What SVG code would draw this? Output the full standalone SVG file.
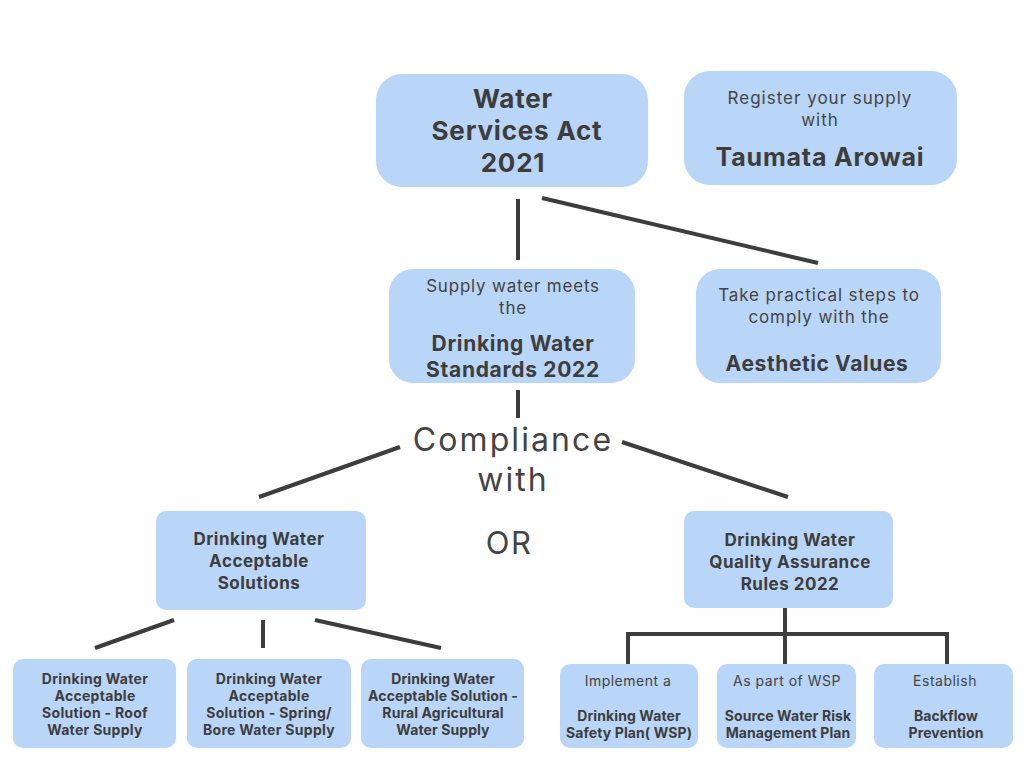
<svg xmlns="http://www.w3.org/2000/svg" width="1024" height="768" viewBox="0 0 1024 768">
<style>
.box{fill:#b9d5f8}
.b{font-family:Inter,"Open Sans","Liberation Sans",sans-serif;font-weight:700;fill:#3d3d3d;text-anchor:middle}
.r{font-family:Inter,"Open Sans","Liberation Sans",sans-serif;font-weight:400;fill:#444;text-anchor:middle}
.ln{stroke:#3d3d3d;stroke-width:4;fill:none}
</style>
<rect width="1024" height="768" fill="#fff"/>
<g id="connectors">
<line class="ln" x1="518" y1="199" x2="518" y2="260"/>
<line class="ln" x1="542" y1="198" x2="818" y2="263"/>
<line class="ln" x1="518" y1="390" x2="518" y2="418"/>
<line class="ln" x1="400" y1="447" x2="259" y2="497"/>
<line class="ln" x1="622" y1="442" x2="788" y2="497"/>
<line class="ln" x1="174" y1="620" x2="95" y2="648"/>
<line class="ln" x1="263" y1="620" x2="263" y2="648"/>
<line class="ln" x1="315" y1="620" x2="441" y2="648"/>
<line class="ln" x1="785" y1="608" x2="785" y2="664"/>
<polyline class="ln" points="628,664 628,634 947,634 947,664"/>
</g>
<g id="act">
<rect class="box" x="376" y="74" width="272" height="113" rx="26"/>
<text class="b" font-size="26" letter-spacing="0.8"><tspan x="513" y="108">Water</tspan><tspan x="517" y="140">Services Act</tspan><tspan x="513" y="172">2021</tspan></text>
</g>
<g id="register">
<rect class="box" x="684" y="71" width="273" height="114" rx="26"/>
<text class="r" font-size="17" letter-spacing="1"><tspan x="820" y="104">Register your supply</tspan><tspan x="820" y="126">with</tspan></text>
<text class="b" font-size="25" letter-spacing="0.8" x="820" y="166">Taumata Arowai</text>
</g>
<g id="standards">
<rect class="box" x="389" y="269" width="246" height="114" rx="24"/>
<text class="r" font-size="17" letter-spacing="0.8"><tspan x="513" y="292">Supply water meets</tspan><tspan x="513" y="314">the</tspan></text>
<text class="b" font-size="21" letter-spacing="0.7"><tspan x="513" y="351">Drinking Water</tspan><tspan x="513" y="377">Standards 2022</tspan></text>
</g>
<g id="aesthetic">
<rect class="box" x="696" y="269" width="245" height="114" rx="24"/>
<text class="r" font-size="17" letter-spacing="0.9"><tspan x="819" y="301">Take practical steps to</tspan><tspan x="819" y="323">comply with the</tspan></text>
<text class="b" font-size="21" letter-spacing="0.6" x="817" y="371">Aesthetic Values</text>
</g>
<g id="compliance">
<text class="r" font-size="32" letter-spacing="2.1"><tspan x="513" y="451">Compliance</tspan><tspan x="513" y="491">with</tspan></text>
</g>
<g id="or">
<text class="r" font-size="31" letter-spacing="1.5" x="509" y="554">OR</text>
</g>
<g id="acceptable">
<rect class="box" x="156" y="511" width="210" height="99" rx="10"/>
<text class="b" font-size="17" letter-spacing="0.5"><tspan x="259" y="545">Drinking Water</tspan><tspan x="259" y="567">Acceptable</tspan><tspan x="259" y="589">Solutions</tspan></text>
</g>
<g id="qarules">
<rect class="box" x="684" y="511" width="209" height="97" rx="10"/>
<text class="b" font-size="17" letter-spacing="0.5"><tspan x="790" y="546">Drinking Water</tspan><tspan x="790" y="568">Quality Assurance</tspan><tspan x="790" y="590">Rules 2022</tspan></text>
</g>
<g id="roof">
<rect class="box" x="13" y="659" width="163" height="89" rx="10"/>
<text class="b" font-size="14" letter-spacing="0.3"><tspan x="95" y="684">Drinking Water</tspan><tspan x="95" y="701">Acceptable</tspan><tspan x="95" y="718">Solution - Roof</tspan><tspan x="95" y="735">Water Supply</tspan></text>
</g>
<g id="spring">
<rect class="box" x="187" y="659" width="164" height="89" rx="10"/>
<text class="b" font-size="14" letter-spacing="0.3"><tspan x="269" y="684">Drinking Water</tspan><tspan x="269" y="701">Acceptable</tspan><tspan x="269" y="718">Solution - Spring/</tspan><tspan x="269" y="735">Bore Water Supply</tspan></text>
</g>
<g id="rural">
<rect class="box" x="361" y="659" width="163" height="89" rx="10"/>
<text class="b" font-size="14" letter-spacing="0.1"><tspan x="443" y="684">Drinking Water</tspan><tspan x="443" y="701">Acceptable Solution -</tspan><tspan x="443" y="718">Rural  Agricultural</tspan><tspan x="443" y="735">Water Supply</tspan></text>
</g>
<g id="wsp">
<rect class="box" x="560" y="664" width="138" height="84" rx="10"/>
<text class="r" font-size="14" letter-spacing="0.5" x="628" y="686">Implement a</text>
<text class="b" font-size="14" letter-spacing="0.1"><tspan x="629" y="721">Drinking Water</tspan><tspan x="629" y="738">Safety Plan( WSP)</tspan></text>
</g>
<g id="source">
<rect class="box" x="717" y="664" width="139" height="84" rx="10"/>
<text class="r" font-size="14" letter-spacing="0.5" x="787" y="686">As part of WSP</text>
<text class="b" font-size="14" letter-spacing="0.1"><tspan x="788" y="721">Source Water Risk</tspan><tspan x="788" y="738">Management Plan</tspan></text>
</g>
<g id="backflow">
<rect class="box" x="874" y="664" width="139" height="84" rx="10"/>
<text class="r" font-size="14" letter-spacing="0.5" x="945" y="686">Establish</text>
<text class="b" font-size="14" letter-spacing="0.1"><tspan x="946" y="721">Backflow</tspan><tspan x="946" y="738">Prevention</tspan></text>
</g>
</svg>
